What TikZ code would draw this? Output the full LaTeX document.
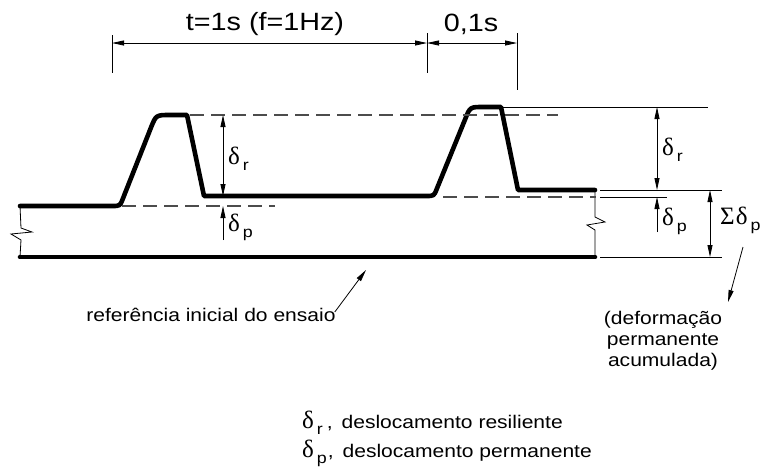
\documentclass[tikz,border=0pt]{standalone}
\usepackage{fontspec}
\setmainfont{Liberation Sans}[FakeStretch=1.15]
\newfontfamily\grk{Liberation Serif}
\usetikzlibrary{arrows.meta}
\newcommand\dsub[1]{{\grk\fontsize{25}{25}\selectfont δ}\kern3pt\raisebox{-0.6ex}{\fontsize{15.5}{15}\selectfont #1}}
\tikzset{
  wave/.style={line width=4.6pt, black, line cap=round, line join=round},
  thinln/.style={line width=0.8pt, black},
  dimline/.style={line width=0.8pt, black, {Triangle[length=12pt,width=5pt]}-{Triangle[length=12pt,width=5pt]}},
  dimone/.style={line width=0.8pt, black, -{Triangle[length=12pt,width=5pt]}},
  dashref/.style={line width=1.1pt, gray!60!black, dash pattern=on 14pt off 7pt},
  lab/.style={inner sep=0pt, font=\fontsize{18.3}{21}\selectfont},
  biglab/.style={inner sep=0pt, font=\fontsize{25}{26}\selectfont},
  ptr/.style={line width=0.8pt, black, -{Triangle[length=12pt,width=5pt]}}
}
\begin{document}
\begin{tikzpicture}[x=1pt,y=-1pt]
\useasboundingbox (0,0) rectangle (768,475);
% ---------- coordinates ----------
\coordinate (s1) at (20,206);
\coordinate (b1a) at (112,206);
\coordinate (b1c) at (120,206);
\coordinate (b1b) at (122.9,198.6);
\coordinate (t1a) at (150.8,128);
\coordinate (t1c) at (156,115);
\coordinate (t1b) at (170,115);
\coordinate (t1e) at (187,115);
\coordinate (f1) at (204,196);
\coordinate (b2a) at (426,196);
\coordinate (b2c) at (434,196);
\coordinate (b2b) at (436.9,188.6);
\coordinate (t2a) at (465.2,119.1);
\coordinate (t2c) at (470,107);
\coordinate (t2b) at (483,107);
\coordinate (t2e) at (501,107);
\coordinate (f2) at (518,190);
\coordinate (e2) at (595,190);
\coordinate (r1) at (20,257);
\coordinate (r2) at (595,257);
% ---------- waveform ----------
\draw[wave] (s1) -- (b1a) .. controls (b1c) .. (b1b) -- (t1a) .. controls (t1c) .. (t1b) -- (t1e) -- (f1) -- (b2a) .. controls (b2c) .. (b2b) -- (t2a) .. controls (t2c) .. (t2b) -- (t2e) -- (f2) -- (e2);
\draw[wave] (r1) -- (r2);
% ---------- break lines ----------
\draw[thinln] (s1) -- (21,228) -- (32,232) -- (11,234) -- (21,240) -- (r1);
\draw[thinln] (e2) -- (595,217) -- (605,222) -- (587,225) -- (595,230) -- (r2);
% ---------- dashed references ----------
\coordinate (d1a) at (190,115); \coordinate (d1b) at (558,115);
\coordinate (d2a) at (122,206); \coordinate (d2b) at (275,206);
\coordinate (d3a) at (443,197); \coordinate (d3b) at (596,197);
\draw[dashref] (d1a) -- (d1b);
\draw[dashref] (d2a) -- (d2b);
\draw[dashref] (d3a) -- (d3b);
% ---------- extension lines ----------
\coordinate (x3a) at (600,197); \coordinate (x3b) at (667,197);
\coordinate (x1a) at (502,107); \coordinate (x1b) at (708,107);
\coordinate (x2a) at (600,190); \coordinate (x2b) at (722,190);
\coordinate (x4a) at (600,257); \coordinate (x4b) at (722,257);
\draw[thinln] (x3a) -- (x3b);
\draw[thinln] (x1a) -- (x1b);
\draw[thinln] (x2a) -- (x2b);
\draw[thinln] (x4a) -- (x4b);
% ---------- top dimensions ----------
\coordinate (v1a) at (112,35); \coordinate (v1b) at (112,73);
\coordinate (v2a) at (427,33); \coordinate (v2b) at (427,73);
\coordinate (v3a) at (517,33); \coordinate (v3b) at (517,90);
\draw[thinln] (v1a) -- (v1b);
\draw[thinln] (v2a) -- (v2b);
\draw[thinln] (v3a) -- (v3b);
\coordinate (h1) at (112,43); \coordinate (h2) at (427,43); \coordinate (h3) at (517,43);
\draw[dimline] (h1) -- (h2);
\draw[dimline] (h2) -- (h3);
\node[biglab] (tlab) at (265,24) {t=1s (f=1Hz)};
\node[biglab] (dtlab) at (471,24) {0,1s};
% ---------- left delta dimensions ----------
\coordinate (L1) at (223,115); \coordinate (L2) at (223,196);
\coordinate (L3) at (223,206); \coordinate (L4) at (223,240);
\draw[dimline] (L1) -- (L2);
\draw[dimone] (L4) -- (L3);
\node[lab, anchor=west] (lr) at (228,159) {\dsub{r}};
\node[lab, anchor=west] (lp) at (228,227) {\dsub{p}};
% ---------- right delta dimensions ----------
\coordinate (R1) at (657,107); \coordinate (R2) at (657,190);
\coordinate (R3) at (657,197); \coordinate (R4) at (657,232);
\draw[dimline] (R1) -- (R2);
\draw[dimone] (R4) -- (R3);
\node[lab, anchor=west] (rr) at (662,150) {\dsub{r}};
\node[lab, anchor=west] (rp) at (662,221) {\dsub{p}};
\coordinate (S1) at (710,190); \coordinate (S2) at (710,257);
\draw[dimline] (S1) -- (S2);
\node[lab, anchor=west] (sp) at (720,220) {{\grk\fontsize{25}{25}\selectfont Σ}\kern1pt\dsub{p}};
% ---------- annotations ----------
\node[lab] (ref) at (211,315) {referência inicial do ensaio};
\coordinate (refp) at (366,270);
\draw[ptr] (ref.east) ++(-1,-3) coordinate (refq) -- (refp);
\coordinate (sq) at (743,247);
\node[lab, align=center] (acc) at (663,341) {(deformação\\permanente\\acumulada)};
\draw[ptr] (sq) -- (728,302) coordinate (sqend);
\node[lab, anchor=west] (leg1) at (302,423) {\dsub{r}\kern4pt,\, deslocamento resiliente};
\node[lab, anchor=west] (leg2) at (302,453) {\dsub{p}\kern1pt,\, deslocamento permanente};
\end{tikzpicture}
\end{document}
